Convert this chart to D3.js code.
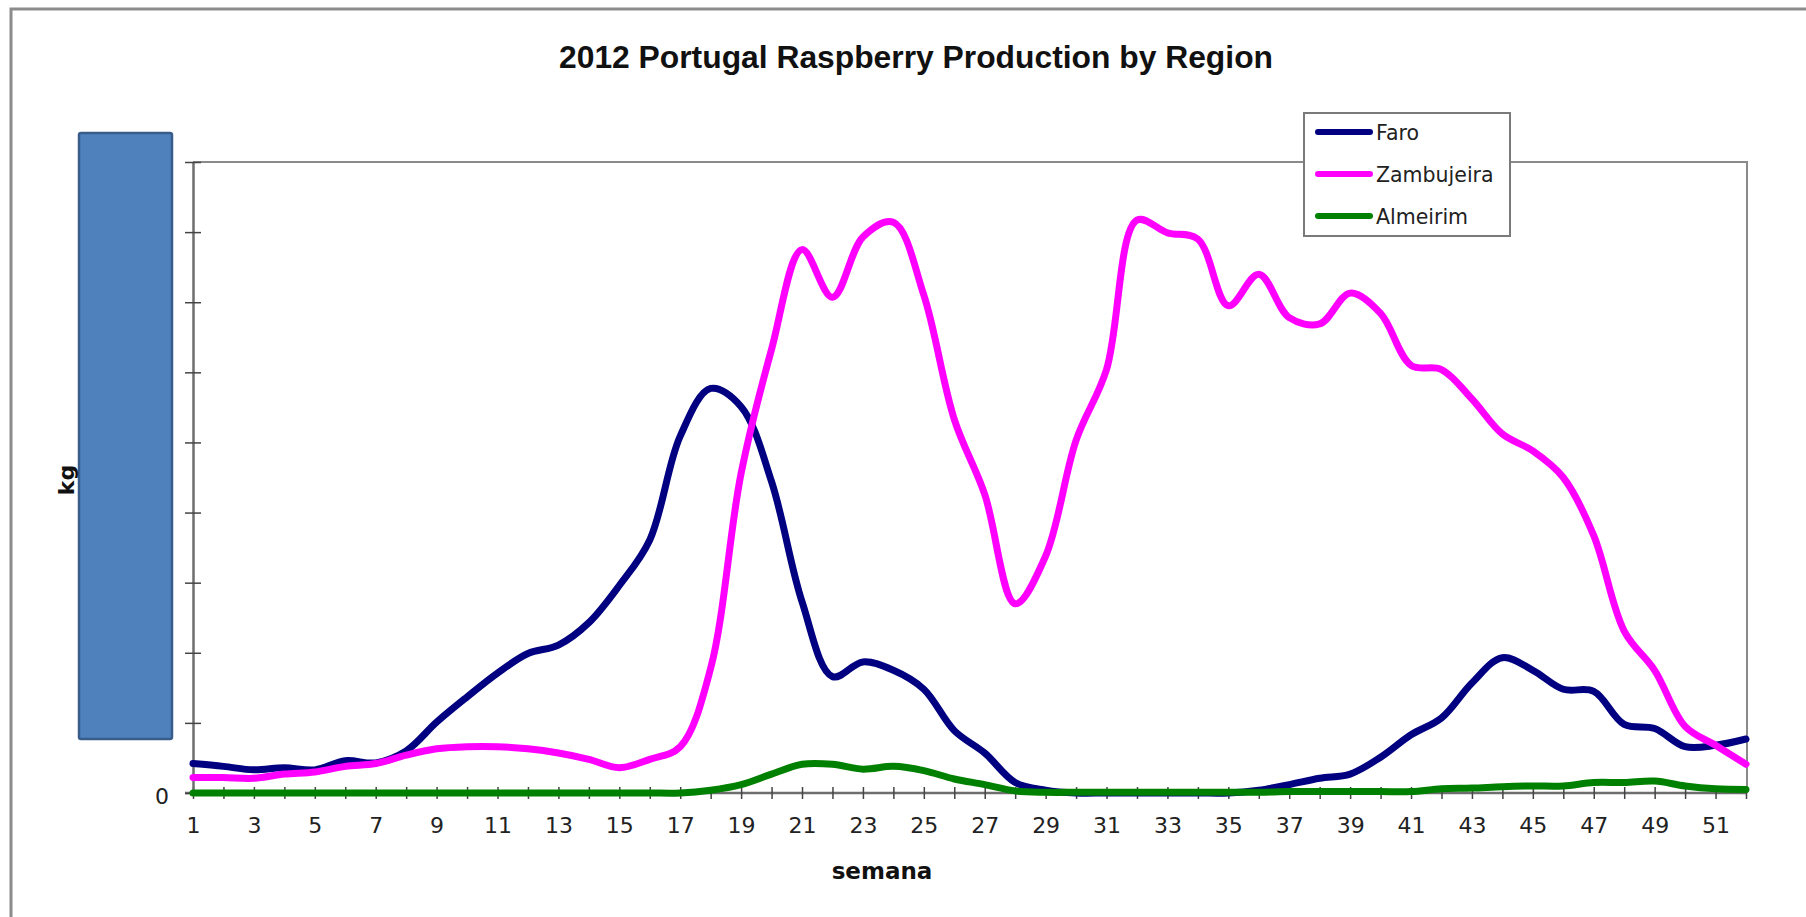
<!DOCTYPE html>
<html>
<head>
<meta charset="utf-8">
<script src="https://cdn.jsdelivr.net/npm/d3@7"></script>
<style>
  html, body { margin: 0; padding: 0; background: #fff; overflow: hidden; }
  svg { display: block; font-family: "DejaVu Sans", sans-serif; }
</style>
</head>
<body>
<svg id="chart" width="1806" height="917"></svg>
<script>
// ─── Data (kg per week) ─────────────────────────────────────────
const weeks = d3.range(1, 53);
const seriesNames = ['Faro', 'Zambujeira', 'Almeirim'];
const seriesColors = ['#000080', '#ff00ff', '#008000'];

const faro = [2100, 1900, 1650, 1800, 1650, 2300, 2150, 3000, 5050, 6850,
  8550, 9950, 10550, 12150, 14800, 18050, 25450, 28850, 27550, 22200,
  13650, 8300, 9350, 8750, 7400, 4450, 2850, 750, 200, 0,
  0, 0, 0, 0, 0, 200, 600, 1050, 1350, 2550,
  4150, 5350, 7850, 9650, 8750, 7400, 7250, 4900, 4600, 3300,
  3400, 3850];

const zambujeira = [1100, 1100, 1050, 1350, 1500, 1900, 2100, 2700, 3150, 3300,
  3300, 3150, 2850, 2400, 1800, 2400, 3300, 8900, 22800, 31650,
  38750, 35350, 39650, 40700, 35500, 26650, 21300, 13500, 16900, 25150,
  30200, 40850, 39950, 39500, 34750, 37000, 33900, 33450, 35650, 34200,
  30500, 30200, 28100, 25600, 24400, 22500, 18350, 11550, 8750, 4750,
  3400, 2050];

const almeirim = [0, 0, 0, 0, 0, 0, 0, 0, 0, 0,
  0, 0, 0, 0, 0, 0, 0, 200, 600, 1350,
  2050, 2050, 1700, 1900, 1600, 1000, 600, 150, 50, 50,
  50, 50, 50, 50, 50, 50, 100, 100, 100, 100,
  100, 300, 350, 450, 500, 500, 750, 750, 850, 500,
  300, 250];

const yTicks = d3.range(0, 45001, 5000);

// ─── Layout ─────────────────────────────────────────────────────
const plot = { left: 193, right: 1747, top: 162, bottom: 793 };
const LABEL_FONT = '"DejaVu Sans", Verdana, sans-serif';

const svg = d3.select('#chart');

// outer chart frame (runs off the right / bottom edge)
svg.append('rect')
  .attr('x', 11).attr('y', 9)
  .attr('width', 1830).attr('height', 940)
  .attr('fill', '#fff')
  .attr('stroke', '#8c8c8c')
  .attr('stroke-width', 3);

const x = d3.scalePoint().domain(weeks).range([plot.left, plot.right - 1]);
const y = d3.scaleLinear().domain([0, 45000]).range([plot.bottom, plot.top]);

// plot-area frame: top and right edges
svg.append('path')
  .attr('d', `M${plot.left},${plot.top}H${plot.right}V${plot.bottom}`)
  .attr('fill', 'none')
  .attr('stroke', '#8a8a8a')
  .attr('stroke-width', 2);

// ── Axes ────────────────────────────────────────────────────────
const xAxis = svg.append('g')
  .attr('transform', `translate(0,${plot.bottom})`)
  .call(d3.axisBottom(x).tickSize(6).tickSizeOuter(0)
    .tickFormat(d => d % 2 === 1 ? d : ''));
xAxis.select('.domain').attr('stroke', '#6e6e6e').attr('stroke-width', 2.5)
  .attr('d', `M${plot.left - 8},0H${plot.right}`);
xAxis.selectAll('.tick line').attr('y1', -6).attr('stroke', '#444').attr('stroke-width', 1.5);
xAxis.selectAll('.tick text')
  .attr('y', 40).attr('dy', 0)
  .attr('font-size', 22)
  .attr('font-family', LABEL_FONT)
  .attr('fill', '#222');

const yAxis = svg.append('g')
  .attr('transform', `translate(${plot.left},0)`)
  .call(d3.axisLeft(y).tickValues(yTicks).tickSize(8).tickSizeOuter(0)
    .tickFormat(d => d === 0 ? '0' : ''));
yAxis.select('.domain').attr('stroke', '#6e6e6e').attr('stroke-width', 2.5);
yAxis.selectAll('.tick line').attr('x2', -8).attr('x1', 8).attr('stroke', '#444').attr('stroke-width', 1.5);
yAxis.selectAll('.tick text')
  .attr('x', -24).attr('dy', 0).attr('y', 10)
  .attr('font-size', 22)
  .attr('font-family', LABEL_FONT)
  .attr('fill', '#222');

// ── Lines ───────────────────────────────────────────────────────
const line = d3.line()
  .x((d, i) => x(weeks[i]))
  .y(d => y(d))
  .curve(d3.curveCatmullRom.alpha(0.5));

svg.append('g')
  .selectAll('path')
  .data([faro, zambujeira, almeirim])
  .join('path')
  .attr('d', line)
  .attr('fill', 'none')
  .attr('stroke', (d, i) => seriesColors[i])
  .attr('stroke-width', 7)
  .attr('stroke-linejoin', 'round')
  .attr('stroke-linecap', 'round');

// ── Blue box covering the value labels ──────────────────────────
svg.append('rect')
  .attr('x', 79).attr('y', 133)
  .attr('width', 93).attr('height', 606)
  .attr('rx', 2)
  .attr('fill', '#4f81bd')
  .attr('stroke', '#385d8a')
  .attr('stroke-width', 2.5);

// ── Titles ──────────────────────────────────────────────────────
svg.append('text')
  .attr('x', 916).attr('y', 68)
  .attr('text-anchor', 'middle')
  .attr('font-family', '"Liberation Sans", Arial, sans-serif')
  .attr('font-size', 31)
  .attr('font-weight', 700)
  .attr('textLength', 714)
  .attr('lengthAdjust', 'spacingAndGlyphs')
  .attr('fill', '#111')
  .text('2012 Portugal Raspberry Production by Region');

svg.append('text')
  .attr('x', 882).attr('y', 879)
  .attr('text-anchor', 'middle')
  .attr('font-family', LABEL_FONT)
  .attr('font-size', 23)
  .attr('font-weight', 700)
  .attr('fill', '#111')
  .text('semana');

svg.append('text')
  .attr('transform', 'translate(74,480) rotate(-90)')
  .attr('text-anchor', 'middle')
  .attr('font-family', LABEL_FONT)
  .attr('font-size', 22)
  .attr('font-weight', 700)
  .attr('fill', '#111')
  .text('kg');

// ── Legend ──────────────────────────────────────────────────────
const legend = svg.append('g');
legend.append('rect')
  .attr('x', 1304).attr('y', 113)
  .attr('width', 206).attr('height', 123)
  .attr('fill', '#fff')
  .attr('stroke', '#7a7a7a')
  .attr('stroke-width', 2);

const legendY = d3.scalePoint().domain(seriesNames).range([132, 216]);
const items = legend.selectAll('.item')
  .data(seriesNames)
  .join('g')
  .attr('class', 'item');
items.append('line')
  .attr('x1', 1318).attr('x2', 1370)
  .attr('y1', d => legendY(d)).attr('y2', d => legendY(d))
  .attr('stroke', (d, i) => seriesColors[i])
  .attr('stroke-width', 6)
  .attr('stroke-linecap', 'round');
items.append('text')
  .attr('x', 1376)
  .attr('y', d => legendY(d) + 8)
  .attr('font-family', LABEL_FONT)
  .attr('font-size', 20.5)
  .attr('fill', '#222')
  .text(d => d);
</script>
</body>
</html>
